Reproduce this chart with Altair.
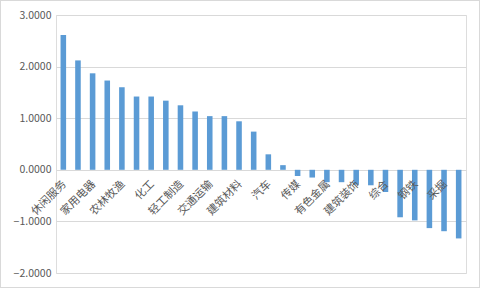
import altair as alt
import pandas as pd

industries = ["休闲服务", "食品饮料", "家用电器", "医药生物", "农林牧渔", "电子", "化工",
              "纺织服装", "轻工制造", "商业贸易", "交通运输", "公用事业", "建筑材料", "房地产",
              "汽车", "电气设备", "传媒", "机械设备", "有色金属", "计算机", "建筑装饰",
              "国防军工", "综合", "通信", "钢铁", "银行", "采掘", "非银金融"]
values = [2.61, 2.12, 1.87, 1.73, 1.60, 1.42, 1.42, 1.34, 1.25, 1.13, 1.04, 1.04,
          0.94, 0.74, 0.30, 0.09, -0.12, -0.15, -0.24, -0.24, -0.29, -0.30, -0.43,
          -0.92, -0.98, -1.13, -1.19, -1.33]
shown = [i % 2 == 0 for i in range(len(industries))]
y_ticks = [3.0, 2.5, 2.0, 1.5, 1.0, 0.5, 0.0, -0.5, -1.0, -1.5, -2.0]

df = pd.DataFrame({
    "industry": industries,
    "value": values,
    "label": [n if s else "" for n, s in zip(industries, shown)],
    "zero": [0.0] * len(industries),
})

W, H = 410, 258
FONT = "Noto Sans CJK SC"

x_enc = alt.X("industry:N", sort=industries,
              scale=alt.Scale(paddingInner=0.62, paddingOuter=0.31), axis=None)

bars = alt.Chart(df).mark_bar(color="#5B9BD5").encode(
    x=x_enc,
    y=alt.Y("value:Q", scale=alt.Scale(domain=[-2, 3], nice=False, zero=False),
            axis=alt.Axis(values=y_ticks, format=".4f", title=None, domain=False,
                          ticks=False, grid=True, gridColor="#d9d9d9",
                          labelColor="#595959", labelFontSize=10.5, labelFont=FONT,
                          labelPadding=5)),
)

labels = alt.Chart(df).mark_text(angle=315, align="right", baseline="middle",
                                 fontSize=11, font=FONT, color="#595959",
                                 dx=-8, dy=10).encode(
    x=x_enc,
    y=alt.Y("zero:Q"),
    text="label:N",
)

border = alt.Chart(df).mark_rect(fill=None, stroke="#d9d9d9", strokeWidth=1).encode(
    x=alt.value(-55.5), x2=alt.value(W + 13.5),
    y=alt.value(-14.5), y2=alt.value(H + 14.5),
)

chart = alt.layer(bars, labels, border).properties(
    width=W, height=H,
    autosize=alt.AutoSizeParams(type="none"),
    padding={"left": 56, "top": 15, "right": 15, "bottom": 16},
).configure_view(stroke=None).configure(background="white")

chart.save("out.html", embed_options={"renderer": "svg", "actions": False})
